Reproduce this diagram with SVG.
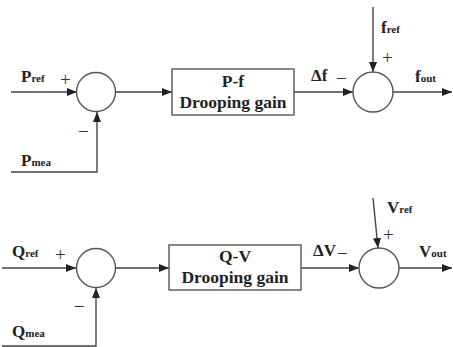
<svg xmlns="http://www.w3.org/2000/svg" width="453" height="347" viewBox="0 0 453 347">
<defs>
<marker id="ah" viewBox="0 0 10 8" refX="10" refY="4" markerWidth="10" markerHeight="8" markerUnits="userSpaceOnUse" orient="auto">
<path d="M0,0 L10,4 L0,8 z" fill="#222"/>
</marker>
<style>
.ln{fill:none;stroke:#444;stroke-width:1.4}
.ar{fill:none;stroke:#444;stroke-width:1.4;marker-end:url(#ah)}
.sum{fill:#fff;stroke:#555;stroke-width:1.4}
.box{fill:#fff;stroke:#555;stroke-width:1.4}
text{font-family:'Liberation Serif','Times New Roman','DejaVu Serif',serif}
.t{font-weight:bold;font-size:17px;fill:#222}
.s{font-size:11px}
.bt{font-weight:bold;font-size:17.5px;fill:#222;text-anchor:middle}
.sg{font-size:19px;fill:#333}
</style>
</defs>
<g id="connectors">
<path class="ar" d="M11,92 H77"/>
<path class="ar" d="M11,172 H97 V112"/>
<path class="ar" d="M116,92 H172"/>
<path class="ar" d="M294,92 H353"/>
<path class="ar" d="M373,7 V72"/>
<path class="ar" d="M393,92 H452"/>
<path class="ar" d="M2,268 H76"/>
<path class="ar" d="M2,346 H96 V288"/>
<path class="ar" d="M116,268 H169"/>
<path class="ar" d="M301,268 H359"/>
<path class="ar" d="M373,198 L378,248"/>
<path class="ar" d="M399,268 H452"/>
</g>
<g id="sum1"><circle class="sum" cx="96" cy="92" r="19.5"/></g>
<g id="box1"><rect class="box" x="172" y="69" width="122" height="46"/>
<text class="bt" x="233" y="87">P-f</text><text class="bt" x="233" y="108">Drooping gain</text></g>
<g id="sum2"><circle class="sum" cx="373" cy="92" r="20"/></g>
<g id="sum3"><circle class="sum" cx="96" cy="268" r="19.5"/></g>
<g id="box2"><rect class="box" x="169" y="245" width="132" height="45"/>
<text class="bt" x="235" y="262">Q-V</text><text class="bt" x="235" y="283">Drooping gain</text></g>
<g id="sum4"><circle class="sum" cx="379" cy="268" r="20"/></g>
<g id="labels">
<text class="t" x="21" y="82">P<tspan class="s">ref</tspan></text>
<text class="sg" x="60" y="86">+</text>
<text class="sg" x="78" y="138">−</text>
<text class="t" x="21" y="166">P<tspan class="s">mea</tspan></text>
<text class="t" x="311" y="81">Δf</text>
<text class="sg" x="336" y="85">−</text>
<text class="t" x="381" y="33">f<tspan class="s">ref</tspan></text>
<text class="sg" x="382" y="64">+</text>
<text class="t" x="415" y="82">f<tspan class="s">out</tspan></text>
<text class="t" x="12" y="257">Q<tspan class="s">ref</tspan></text>
<text class="sg" x="55" y="261">+</text>
<text class="sg" x="74" y="313">−</text>
<text class="t" x="12" y="337">Q<tspan class="s">mea</tspan></text>
<text class="t" x="313" y="256">ΔV</text>
<text class="sg" x="337" y="260">−</text>
<text class="t" x="387" y="213">V<tspan class="s">ref</tspan></text>
<text class="sg" x="383" y="241">+</text>
<text class="t" x="419" y="257">V<tspan class="s">out</tspan></text>
</g>
</svg>
